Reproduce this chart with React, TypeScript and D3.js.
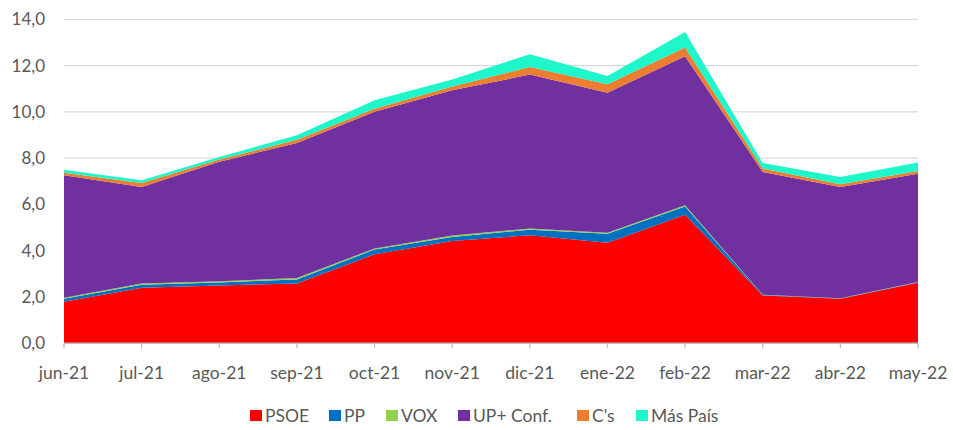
import React from "react";
import * as d3 from "d3";

const months = ["jun-21","jul-21","ago-21","sep-21","oct-21","nov-21","dic-21","ene-22","feb-22","mar-22","abr-22","may-22"];
const seriesNames = ["PSOE","PP","VOX","UP+ Conf.","C's","Más País"];
const psoe = [1.8, 2.4, 2.5, 2.58, 3.85, 4.42, 4.67, 4.35, 5.56, 2.07, 1.92, 2.62];
const pp = [0.12, 0.13, 0.13, 0.18, 0.2, 0.17, 0.24, 0.38, 0.35, 0.02, 0.02, 0.02];
const vox = [0.05, 0.05, 0.05, 0.06, 0.05, 0.07, 0.05, 0.05, 0.05, 0.01, 0.01, 0.01];
const upConf = [5.29, 4.17, 5.16, 5.84, 5.9, 6.27, 6.65, 6.05, 6.44, 5.3, 4.8, 4.68];
const cs = [0.11, 0.18, 0.1, 0.14, 0.14, 0.17, 0.33, 0.36, 0.38, 0.15, 0.12, 0.12];
const masPais = [0.13, 0.11, 0.11, 0.19, 0.36, 0.3, 0.55, 0.36, 0.67, 0.24, 0.32, 0.36];
const yTicks = [0, 2, 4, 6, 8, 10, 12, 14];
const colors = ["#FF0000", "#0070C0", "#92D050", "#7030A0", "#ED7D31", "#1DF7C9"];

const W = 953, H = 430;
const left = 64, right = 918, top = 19.3, bottom = 343.3;
const font = "Lato, 'Open Sans', sans-serif";

export default function App() {
  const allSeries = [psoe, pp, vox, upConf, cs, masPais];
  const rows = months.map((m, i) => {
    const r: any = { month: m };
    seriesNames.forEach((s, k) => (r[s] = allSeries[k][i]));
    return r;
  });
  const stacked = d3.stack().keys(seriesNames)(rows);
  const x = d3.scalePoint().domain(months).range([left, right]);
  const y = d3.scaleLinear().domain([0, 14]).range([bottom, top]);
  const area = d3
    .area<any>()
    .x((d: any) => x(d.data.month) as number)
    .y0((d: any) => y(d[0]))
    .y1((d: any) => y(d[1]));

  // legend layout
  const legendX = [250, 329, 386, 458, 577, 636];

  return (
    <svg width={W} height={H} style={{ position: "absolute", left: 0, top: 0, background: "#fff" }}>
      {yTicks.map((t) =>
        t > 0 ? (
          <line key={"g" + t} x1={left} x2={right} y1={y(t)} y2={y(t)} stroke="#D9D9D9" strokeWidth={1.3} />
        ) : null
      )}
      {stacked.map((s, k) => (
        <path key={s.key} d={area(s as any) as string} fill={colors[k]} />
      ))}
      <line x1={left} x2={right} y1={y(0)} y2={y(0)} stroke="#BFBFBF" strokeWidth={1.5} />
      {months.map((m) => (
        <line key={"t" + m} x1={x(m)} x2={x(m)} y1={y(0)} y2={y(0) + 5} stroke="#BFBFBF" strokeWidth={1.3} />
      ))}
      {yTicks.map((t) => (
        <text key={"yl" + t} x={45} y={y(t)} dy="0.35em" textAnchor="end" fontFamily={font} fontSize={17} fill="#595959">
          {t.toFixed(1).replace(".", ",")}
        </text>
      ))}
      {months.map((m) => (
        <text key={"xl" + m} x={x(m)} y={373} dy="0.35em" textAnchor="middle" fontFamily={font} fontSize={17.5} fill="#595959">
          {m}
        </text>
      ))}
      {seriesNames.map((s, k) => (
        <g key={"lg" + s}>
          <rect x={legendX[k]} y={410} width={12} height={11} fill={colors[k]} />
          <text x={legendX[k] + 15} y={415.5} dy="0.35em" fontFamily={font} fontSize={17.5} fill="#595959">
            {s}
          </text>
        </g>
      ))}
    </svg>
  );
}
